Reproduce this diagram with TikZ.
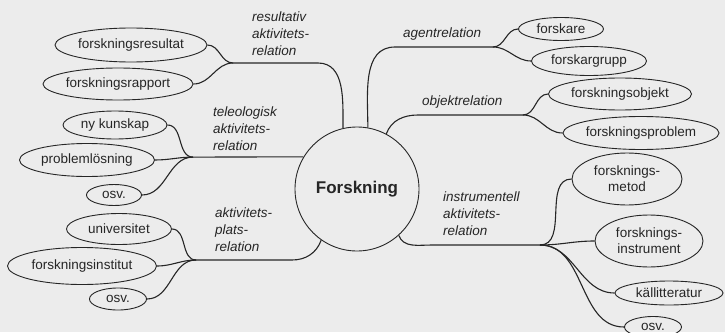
\documentclass[tikz,border=0pt]{standalone}
\usepackage{fontspec}
\setmainfont{Liberation Sans}
\usetikzlibrary{shapes.geometric}
\definecolor{bg}{RGB}{236,236,236}
\definecolor{ink}{RGB}{38,38,38}
\begin{document}
\begin{tikzpicture}[x=1pt,y=-1pt,
  el/.style={ellipse, draw=ink, line width=0.9pt, inner sep=0pt, text=ink, align=center,
             font=\fontsize{13.5}{16}\selectfont},
  rel/.style={font=\fontsize{13.5}{17}\selectfont\itshape, text=ink, align=left,
              anchor=north west, inner sep=0pt},
  con/.style={draw=ink, line width=1.1pt},
  hub/.style={circle, draw=ink, line width=0.9pt, minimum size=124pt, inner sep=0pt,
              text=ink, font=\fontsize{17}{20}\selectfont\bfseries}
]
\fill[bg] (0,0) rectangle (725,332);
\useasboundingbox (0,0) rectangle (725,332);

% hub
\node[hub] (F) at (357,189) {Forskning};

% left ellipses
\node[el, minimum width=152pt, minimum height=34pt] (rs) at (131,45) {forskningsresultat};
\node[el, minimum width=150pt, minimum height=32pt] (rp) at (118,84) {forskningsrapport};
\node[el, minimum width=104pt, minimum height=28pt] (nk) at (115,125) {ny kunskap};
\node[el, minimum width=135pt, minimum height=33pt] (pl) at (87,160) {problemlösning};
\node[el, minimum width=55pt, minimum height=21pt] (o1) at (114,195) {osv.};
\node[el, minimum width=105pt, minimum height=31pt] (un) at (119,229) {universitet};
\node[el, minimum width=149pt, minimum height=37pt] (fi) at (82,266) {forskningsinstitut};
\node[el, minimum width=57pt, minimum height=22pt] (o2) at (118,299) {osv.};

% right ellipses
\node[el, minimum width=85pt, minimum height=23pt] (fk) at (561,29) {forskare};
\node[el, minimum width=115pt, minimum height=29pt] (fg) at (589,61) {forskargrupp};
\node[el, minimum width=143pt, minimum height=32pt] (fo) at (620,94) {forskningsobjekt};
\node[el, minimum width=156pt, minimum height=33pt] (fp) at (641,133) {forskningsproblem};
\node[el, minimum width=110pt, minimum height=52pt] (fm) at (627,179) {forsknings-\\metod};
\node[el, minimum width=108pt, minimum height=52pt] (fin) at (649,241) {forsknings-\\instrument};
\node[el, minimum width=108pt, minimum height=24pt] (kl) at (669,293) {källitteratur};
\node[el, minimum width=57pt, minimum height=21pt] (o3) at (653,327) {osv.};

% relation labels
\node[rel] (lr) at (252,11.7) {resultativ\\aktivitets-\\relation};
\node[rel] (la) at (403,27.7) {agentrelation};
\node[rel] (lo) at (422,95.7) {objektrelation};
\node[rel] (lt) at (213,106.7) {teleologisk\\aktivitets-\\relation};
\node[rel] (lp) at (215,207.7) {aktivitets-\\plats-\\relation};
\node[rel] (li) at (443,191.7) {instrumentell\\aktivitets-\\relation};

% forks and corners
\coordinate (rfork) at (233,63);
\coordinate (rcorn) at (318,63);
\coordinate (tfork) at (193,157.1);
\coordinate (pfork) at (196,260);
\coordinate (pcorn) at (292,260);
\coordinate (afork) at (493,47);
\coordinate (acorn) at (395,47);
\coordinate (ofork) at (523,115);
\coordinate (ocorn) at (418,115);
\coordinate (ifork) at (540,245);
\coordinate (icorn) at (432,245);

% resultativ
\draw[con] (rs.east) to[out=0,in=180] (rfork);
\draw[con] (rp.east) to[out=0,in=180] (rfork);
\draw[con] (rfork) -- (rcorn) to[out=0,in=90] (F.103);
% teleologisk
\draw[con] (nk.east) to[out=0,in=180] (tfork);
\draw[con] (pl.east) to[out=0,in=180] (tfork);
\draw[con] (o1.east) to[out=0,in=180] (tfork);
\draw[con] (tfork) -- (F.149);
% plats
\draw[con] (un.east) to[out=0,in=180] (pfork);
\draw[con] (fi.east) to[out=0,in=180] (pfork);
\draw[con] (o2.east) to[out=0,in=180] (pfork);
\draw[con] (pfork) -- (pcorn) to[out=0,in=250] (F.235);
% agent
\draw[con] (F.80) to[out=90,in=180] (acorn) -- (afork);
\draw[con] (afork) to[out=0,in=180] (fk.west);
\draw[con] (afork) to[out=0,in=180] (fg.west);
% objekt
\draw[con] (F.62) to[out=70,in=180] (ocorn) -- (ofork);
\draw[con] (ofork) to[out=0,in=180] (fo.west);
\draw[con] (ofork) to[out=0,in=180] (fp.west);
% instrumentell
\draw[con] (F.312) to[out=290,in=180] (icorn) -- (ifork);
\draw[con] (ifork) to[out=0,in=180] (fm.west);
\draw[con] (ifork) to[out=0,in=180] (fin.west);
\draw[con] (ifork) to[out=0,in=180] (kl.west);
\draw[con] (ifork) to[out=0,in=180] (o3.west);
\end{tikzpicture}
\end{document}
